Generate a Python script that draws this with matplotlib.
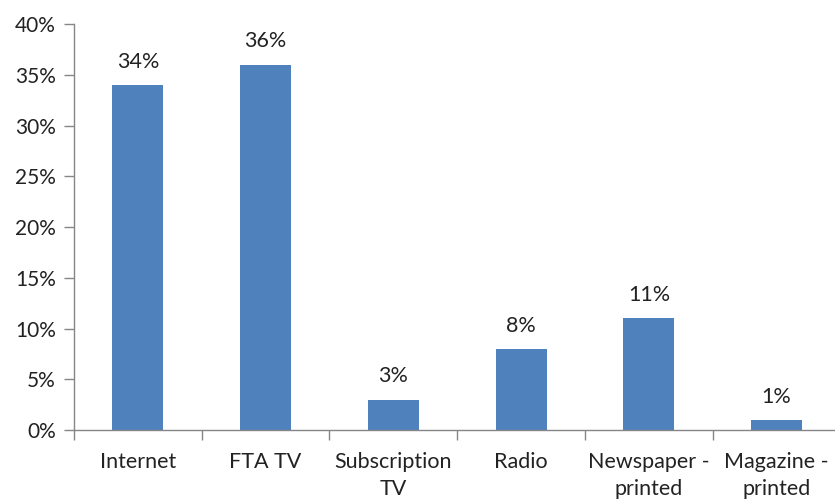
import matplotlib.pyplot as plt
import numpy as np

plt.rcParams['font.family'] = ['Lato', 'DejaVu Sans']

categories = ['Internet', 'FTA TV', 'Subscription\nTV', 'Radio',
              'Newspaper -\nprinted', 'Magazine -\nprinted']
shares = [34, 36, 3, 8, 11, 1]
y_ticks = [0, 5, 10, 15, 20, 25, 30, 35, 40]

bar_color = '#4F81BD'
axis_color = '#868686'
text_color = '#222222'

fig = plt.figure(figsize=(8.35, 5.01), dpi=100)
ax = fig.add_axes([0.0886, 0.1417, 0.918, 0.8104])

x = np.arange(len(categories))
ax.bar(x, shares, width=0.4, color=bar_color, zorder=2)

for xi, v in zip(x, shares):
    ax.annotate(f'{v}%', (xi, v), xytext=(0, 9.5), textcoords='offset points',
                ha='center', va='bottom', fontsize=15.5, color=text_color)

ax.set_xlim(-0.5, len(categories) - 0.5)
ax.set_ylim(0, 40)
ax.set_yticks(y_ticks)
ax.set_yticklabels([f'{t}%' for t in y_ticks], fontsize=15, color=text_color)

ax.set_xticks(x)
ax.set_xticklabels(categories, fontsize=15.5, color=text_color, linespacing=1.4)
ax.set_xticks(np.arange(len(categories) + 1) - 0.5, minor=True)
ax.tick_params(axis='x', which='major', length=0, pad=16)
ax.tick_params(axis='x', which='minor', length=7, width=1, color=axis_color)
ax.tick_params(axis='y', length=7, width=1, color=axis_color, pad=6)

for side in ['top', 'right']:
    ax.spines[side].set_visible(False)
for side in ['left', 'bottom']:
    ax.spines[side].set_color(axis_color)
    ax.spines[side].set_linewidth(1)

fig.savefig('out.png', dpi=100)
